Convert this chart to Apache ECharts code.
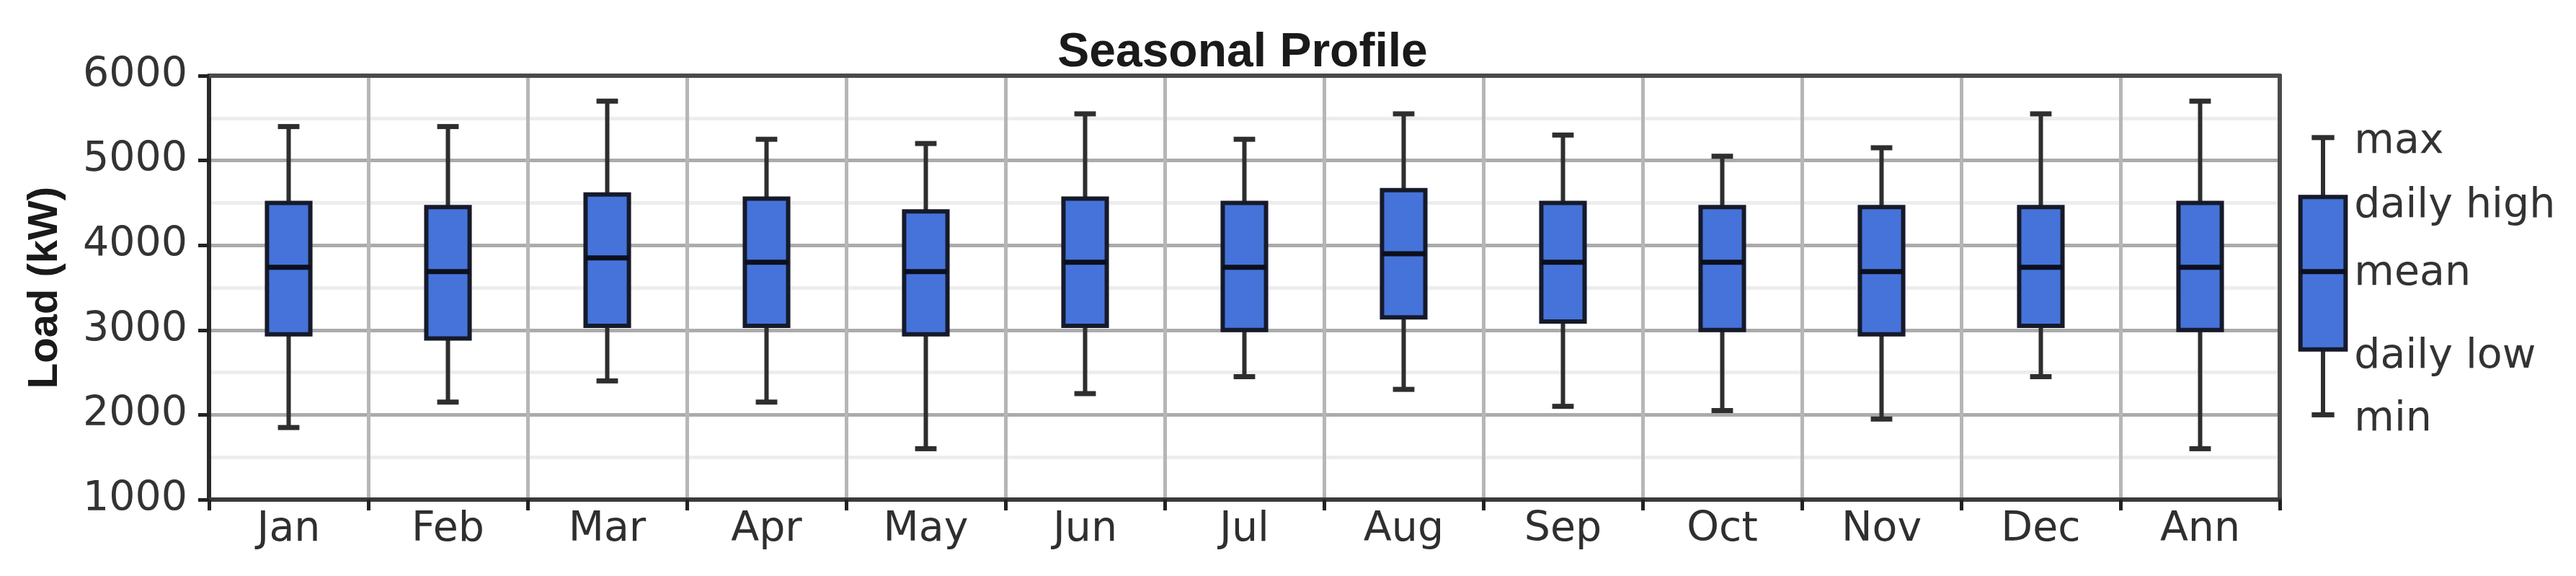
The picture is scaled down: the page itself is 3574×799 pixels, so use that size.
<!DOCTYPE html>
<html>
<head>
<meta charset="utf-8">
<script src="https://cdn.jsdelivr.net/npm/echarts@6/dist/echarts.min.js"></script>
<style>
  html, body { margin: 0; padding: 0; background: #ffffff; }
  #chart { width: 3574px; height: 799px; }
</style>
</head>
<body>
<div id="chart"></div>
<script>
// ---- data ----
var categories = ['Jan','Feb','Mar','Apr','May','Jun','Jul','Aug','Sep','Oct','Nov','Dec','Ann'];
var maxValues   = [5400, 5400, 5700, 5250, 5200, 5550, 5250, 5550, 5300, 5050, 5150, 5550, 5700];
var highValues  = [4500, 4450, 4600, 4550, 4400, 4550, 4500, 4650, 4500, 4450, 4450, 4450, 4500];
var meanValues  = [3740, 3690, 3850, 3800, 3690, 3800, 3740, 3900, 3800, 3800, 3690, 3740, 3740];
var lowValues   = [2950, 2900, 3050, 3050, 2950, 3050, 3000, 3150, 3100, 3000, 2950, 3050, 3000];
var minValues   = [1850, 2150, 2400, 2150, 1600, 2250, 2450, 2300, 2100, 2050, 1950, 2450, 1600];
var yTicks = [1000, 2000, 3000, 4000, 5000, 6000];

// legend key (a sample box drawn on the same value scale)
var legendNames  = ['min', 'daily low', 'mean', 'daily high', 'max'];
var legendValues = [2000, 2770, 3690, 4570, 5270];

var FONT = 'DejaVu Sans';
var BOX_FILL = '#4573d9';
var BOX_EDGE = '#161a2a';
var WHISK = '#2e2e2e';

function buildData(n) {
  var out = [];
  for (var i = 0; i < n; i++) {
    out.push([i, minValues[i], lowValues[i], meanValues[i], highValues[i], maxValues[i]]);
  }
  return out;
}

function makeRender(boxFrac, capFrac, labels, labelOffsets) {
  return function (params, api) {
    var x = api.value(0);
    var band = api.size([1, 0])[0];
    var bw = band * boxFrac, cw = band * capFrac;
    var pMin = api.coord([x, api.value(1)]);
    var pLow = api.coord([x, api.value(2)]);
    var pMean = api.coord([x, api.value(3)]);
    var pHigh = api.coord([x, api.value(4)]);
    var pMax = api.coord([x, api.value(5)]);
    var cx = pMin[0];
    var lw = 6;
    var children = [
      { type: 'line', shape: { x1: cx, y1: pMin[1], x2: cx, y2: pMax[1] },
        style: { stroke: WHISK, lineWidth: lw } },
      { type: 'line', shape: { x1: cx - cw / 2, y1: pMin[1], x2: cx + cw / 2, y2: pMin[1] },
        style: { stroke: WHISK, lineWidth: lw + 1 } },
      { type: 'line', shape: { x1: cx - cw / 2, y1: pMax[1], x2: cx + cw / 2, y2: pMax[1] },
        style: { stroke: WHISK, lineWidth: lw + 1 } },
      { type: 'rect', shape: { x: cx - bw / 2, y: pHigh[1], width: bw, height: pLow[1] - pHigh[1] },
        style: { fill: BOX_FILL, stroke: BOX_EDGE, lineWidth: lw } },
      { type: 'line', shape: { x1: cx - bw / 2, y1: pMean[1], x2: cx + bw / 2, y2: pMean[1] },
        style: { stroke: '#0d0f1c', lineWidth: 7 } }
    ];
    if (labels) {
      var pts = [pMin, pLow, pMean, pHigh, pMax];
      for (var k = 0; k < labels.length; k++) {
        children.push({
          type: 'text',
          style: {
            text: labels[k], x: cx + bw / 2 + 12, y: pts[k][1] + labelOffsets[k],
            fill: '#333333', font: '57px "' + FONT + '"',
            align: 'left', verticalAlign: 'middle'
          }
        });
      }
    }
    return { type: 'group', children: children };
  };
}

var chart = echarts.init(document.getElementById('chart'), null, { renderer: 'canvas' });

var option = {
  backgroundColor: '#ffffff',
  animation: false,
  title: {
    text: 'Seasonal Profile',
    left: 1719, top: 36, textAlign: 'center',
    textStyle: { fontFamily: 'Liberation Sans', fontWeight: 'bold', fontSize: 66, color: '#1a1a1a' }
  },
  grid: [
    { left: 290, right: 411, top: 105, bottom: 106 },
    { left: 3191, width: 64, top: 105, bottom: 106 }
  ],
  xAxis: [
    {
      type: 'category', gridIndex: 0, data: categories, boundaryGap: true, position: 'bottom',
      axisLine: { show: true, lineStyle: { color: '#3a3a3a', width: 6 } },
      axisTick: { show: true, length: 15, lineStyle: { color: '#222', width: 5 } },
      axisLabel: { fontFamily: FONT, fontSize: 57, color: '#2f2f2f', margin: 14 },
      splitLine: { show: true, lineStyle: { color: '#b6b6b6', width: 5 } }
    },
    {
      type: 'category', gridIndex: 0, data: categories, boundaryGap: true, position: 'top',
      axisLine: { show: true, lineStyle: { color: '#4a4a4a', width: 6 } },
      axisTick: { show: false }, axisLabel: { show: false }, splitLine: { show: false }
    },
    { type: 'category', gridIndex: 1, data: ['key'], show: false }
  ],
  yAxis: [
    {
      type: 'value', gridIndex: 0, min: 1000, max: 6000, interval: 1000, position: 'left',
      name: 'Load (kW)', nameLocation: 'middle', nameGap: 198, nameRotate: 90,
      nameTextStyle: { fontFamily: 'Liberation Sans', fontWeight: 'bold', fontSize: 58, color: '#1a1a1a' },
      axisLine: { show: true, lineStyle: { color: '#2a2a2a', width: 6 } },
      axisTick: { show: true, length: 15, lineStyle: { color: '#222', width: 5 } },
      axisLabel: {
        fontFamily: FONT, fontSize: 57, color: '#333333', margin: 30,
        formatter: function (v) { return yTicks.indexOf(v) >= 0 ? String(v) : ''; }
      },
      splitLine: { show: true, lineStyle: { color: '#ababab', width: 5 } },
      minorTick: { show: false, splitNumber: 2 },
      minorSplitLine: { show: true, lineStyle: { color: '#ededed', width: 5 } }
    },
    {
      type: 'value', gridIndex: 0, min: 1000, max: 6000, interval: 1000, position: 'right',
      axisLine: { show: true, lineStyle: { color: '#4a4a4a', width: 6 } },
      axisTick: { show: false }, axisLabel: { show: false }, splitLine: { show: false }
    },
    { type: 'value', gridIndex: 1, min: 1000, max: 6000, show: false }
  ],
  series: [
    {
      type: 'custom', name: 'Seasonal', xAxisIndex: 0, yAxisIndex: 0,
      renderItem: makeRender(0.272, 0.135, null, null),
      encode: { x: 0, y: [1, 2, 3, 4, 5] },
      data: buildData(categories.length),
      z: 5
    },
    {
      type: 'custom', name: 'Key', xAxisIndex: 2, yAxisIndex: 2,
      renderItem: makeRender(0.98, 0.49, legendNames, [7, 10, 4, 13, 6]),
      encode: { x: 0, y: [1, 2, 3, 4, 5] },
      data: [[0, legendValues[0], legendValues[1], legendValues[2], legendValues[3], legendValues[4]]],
      clip: false,
      z: 5
    }
  ]
};

chart.setOption(option);
</script>
</body>
</html>
